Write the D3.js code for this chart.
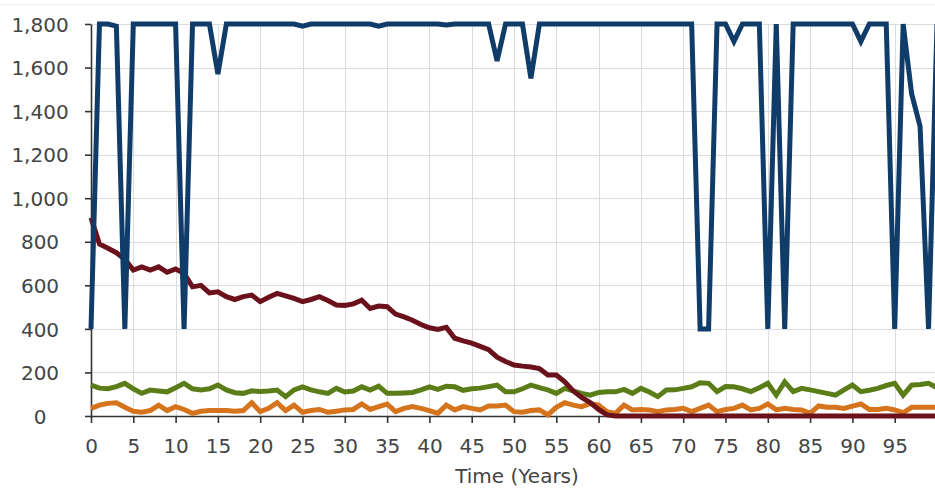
<!DOCTYPE html>
<html>
<head>
<meta charset="utf-8">
<script src="https://cdn.jsdelivr.net/npm/d3@7"></script>
<style>
  html, body { margin: 0; padding: 0; background: #fff; }
  svg { display: block; }
  .tick-label { font-family: "DejaVu Sans", sans-serif; font-size: 20px; fill: #444; }
</style>
</head>
<body>
<svg id="chart" width="935" height="493"></svg>
<script>
// Simulation years 0..100
const years = d3.range(0, 101);

// Series A (navy): stays at the 1,800 cap with occasional collapses
const seriesBlue = [
  400, 1800, 1800, 1790, 400, 1800, 1800, 1800, 1800, 1800,
  1800, 400, 1800, 1800, 1800, 1570, 1800, 1800, 1800, 1800,
  1800, 1800, 1800, 1800, 1800, 1790, 1800, 1800, 1800, 1800,
  1800, 1800, 1800, 1800, 1790, 1800, 1800, 1800, 1800, 1800,
  1800, 1800, 1795, 1800, 1800, 1800, 1800, 1800, 1630, 1800,
  1800, 1800, 1550, 1800, 1800, 1800, 1800, 1800, 1800, 1800,
  1800, 1800, 1800, 1800, 1800, 1800, 1800, 1800, 1800, 1800,
  1800, 1800, 400, 400, 1800, 1800, 1720, 1800, 1800, 1800,
  400, 1800, 400, 1800, 1800, 1800, 1800, 1800, 1800, 1800,
  1800, 1720, 1800, 1800, 1800, 400, 1800, 1480, 1330, 400,
  1800
];

// Series B (dark red): steady decline to zero around year 61
const seriesRed = [
  910, 790, 770, 750, 720, 670, 685, 670, 685, 660,
  675, 655, 593, 600, 565, 570, 548, 535, 548, 555,
  525, 545, 563, 552, 540, 525, 535, 548, 530, 510,
  508, 515, 532, 494, 505, 502, 468, 455, 440, 420,
  405, 397, 407, 357, 345, 335, 320, 305, 270, 250,
  234, 229, 225, 218, 188, 188, 157, 115, 85, 62,
  30, 5, 0, 0, 0, 0, 0, 0, 0, 0,
  0, 0, 0, 0, 0, 0, 0, 0, 0, 0,
  0, 0, 0, 0, 0, 0, 0, 0, 0, 0,
  0, 0, 0, 0, 0, 0, 0, 0, 0, 0,
  0
];

// Series C (olive green)
const seriesGreen = [
  142, 128, 125, 135, 150, 125, 104, 119, 115, 111,
  130, 150, 125, 119, 125, 142, 120, 107, 104, 116,
  112, 115, 119, 89, 120, 134, 120, 111, 104, 127,
  110, 115, 134, 119, 137, 104, 104, 106, 108, 120,
  134, 122, 137, 134, 118, 125, 128, 135, 142, 111,
  111, 125, 142, 130, 120, 104, 127, 115, 104, 96,
  108, 111, 111, 122, 104, 127, 110, 89, 119, 120,
  127, 134, 153, 150, 112, 135, 134, 125, 112, 130,
  150, 96, 157, 112, 127, 120, 112, 104, 96, 120,
  142, 112, 118, 127, 140, 150, 96, 142, 145, 150,
  130
];

// Series D (orange)
const seriesOrange = [
  35, 50, 58, 61, 40, 22, 17, 25, 50, 25,
  43, 30, 12, 22, 25, 25, 25, 22, 25, 61,
  20, 35, 61, 25, 50, 17, 25, 30, 17, 22,
  28, 30, 55, 30, 43, 55, 20, 35, 43, 35,
  25, 12, 50, 28, 43, 35, 28, 46, 46, 50,
  20, 17, 25, 28, 5, 40, 61, 50, 43, 57,
  50, 20, 12, 50, 28, 30, 28, 20, 28, 30,
  35, 20, 35, 50, 20, 30, 35, 50, 28, 35,
  55, 28, 35, 30, 28, 12, 46, 40, 40, 35,
  45, 55, 30, 30, 35, 28, 15, 40, 40, 40,
  40
];

const xTickValues = [0, 5, 10, 15, 20, 25, 30, 35, 40, 45, 50, 55, 60, 65, 70, 75, 80, 85, 90, 95];
const yTickValues = [0, 200, 400, 600, 800, 1000, 1200, 1400, 1600, 1800];
const xTitle = "Time (Years)";

const svg = d3.select("#chart");
const W = 935;
const plotLeft = 91, plotTop = 24, plotBottom = 416, plotRight = 937;

const x = d3.scaleLinear().domain([0, 100]).range([plotLeft, plotRight]);
const y = d3.scaleLinear().domain([0, 1800]).range([plotBottom, plotTop]);

// faint outer frame line at the top
svg.append("line")
  .attr("x1", 0).attr("x2", W).attr("y1", 4.5).attr("y2", 4.5)
  .attr("stroke", "#f0eeee").attr("stroke-width", 1);

// gridlines
const grid = svg.append("g");
grid.selectAll(".hg").data(yTickValues.filter(v => v > 0)).join("line")
  .attr("x1", plotLeft).attr("x2", plotRight)
  .attr("y1", d => Math.round(y(d)) + 0.5).attr("y2", d => Math.round(y(d)) + 0.5)
  .attr("stroke", "#dcdcdc").attr("stroke-width", 1);
grid.selectAll(".vg").data(xTickValues.filter(v => v > 0)).join("line")
  .attr("y1", plotTop).attr("y2", plotBottom)
  .attr("x1", d => Math.round(x(d)) + 0.5).attr("x2", d => Math.round(x(d)) + 0.5)
  .attr("stroke", "#dcdcdc").attr("stroke-width", 1);

// axes
const xAxis = d3.axisBottom(x).tickValues(xTickValues).tickSize(7).tickSizeOuter(0).tickFormat(d3.format("d"));
const yAxis = d3.axisLeft(y).tickValues(yTickValues).tickSize(6).tickSizeOuter(0).tickFormat(d3.format(","));

const gx = svg.append("g").attr("transform", `translate(0,${plotBottom})`).call(xAxis);
gx.select(".domain").attr("stroke", "#333").attr("stroke-width", 1.6);
gx.selectAll(".tick line").attr("stroke", "#333").attr("stroke-width", 1.6);
gx.selectAll(".tick text").attr("class", "tick-label")
  .attr("y", 0).attr("dy", null).attr("transform", "translate(0,37)")
  .style("font-family", "DejaVu Sans, sans-serif").style("font-size", "20px").attr("fill", "#444");

const gy = svg.append("g").attr("transform", `translate(${plotLeft},0)`).call(yAxis);
gy.select(".domain").attr("stroke", "#333").attr("stroke-width", 1.6);
gy.selectAll(".tick line").attr("stroke", "#333").attr("stroke-width", 1.6);
gy.selectAll(".tick text").attr("class", "tick-label")
  .attr("x", 40 - plotLeft).attr("text-anchor", "middle").attr("dy", "0.36em")
  .style("font-family", "DejaVu Sans, sans-serif").style("font-size", "20px").attr("fill", "#444");

svg.append("text")
  .attr("class", "tick-label")
  .attr("x", 517).attr("y", 483)
  .attr("text-anchor", "middle")
  .text(xTitle);

// series lines
const line = d3.line().x((d, i) => x(years[i])).y(d => y(d));
const series = [
  { values: seriesOrange, color: "#d6741d" },
  { values: seriesGreen, color: "#5a7d18" },
  { values: seriesRed, color: "#6b111c" },
  { values: seriesBlue, color: "#0f3c68" }
];
svg.append("g").selectAll("path").data(series).join("path")
  .attr("d", s => line(s.values))
  .attr("fill", "none")
  .attr("stroke", s => s.color)
  .attr("stroke-width", 5)
  .attr("stroke-linejoin", "miter");
</script>
</body>
</html>
